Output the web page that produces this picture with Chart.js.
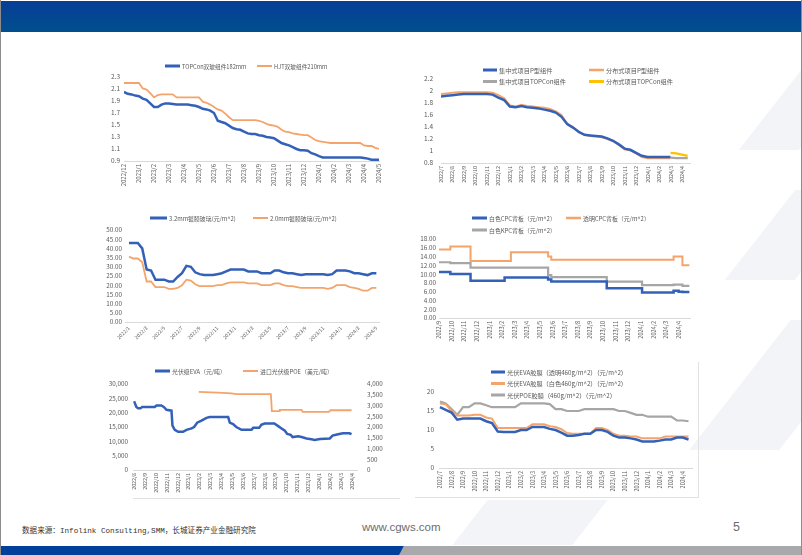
<!DOCTYPE html>
<html lang="zh-CN">
<head>
<meta charset="utf-8">
<title>光伏组件及辅材价格走势</title>
<script src="https://cdn.jsdelivr.net/npm/chart.js@4.4.1/dist/chart.umd.min.js"></script>
<style>
html,body{margin:0;padding:0;}
body{width:802px;height:555px;position:relative;overflow:hidden;background:#fff;font-family:"Noto Sans CJK SC","Noto Sans",sans-serif;}
#topbar{position:absolute;left:0;top:1px;width:802px;height:31px;background:linear-gradient(to bottom,#073d97,#004f8e);}
canvas{position:absolute;}
.wm{position:absolute;background:#f2f4f8;transform:skewX(-38deg);}
.fr{position:absolute;background:#e2e2e2;}
#src{position:absolute;left:22px;top:524px;font-family:"Liberation Mono","Noto Sans CJK SC",monospace;font-size:7.6px;color:#333;white-space:nowrap;}
#url{position:absolute;left:362px;top:521px;font-family:"Liberation Sans",sans-serif;font-size:11.5px;color:#6d6d6d;}
#pg{position:absolute;left:733px;top:520px;font-family:"Liberation Sans",sans-serif;font-size:12.5px;color:#6d6d6d;}
#barBlue{position:absolute;left:0;top:546px;width:404px;height:9px;background:#00409a;clip-path:polygon(0 0,100% 0,calc(100% - 4px) 100%,0 100%);}
#barGray{position:absolute;left:399px;top:546px;width:403px;height:9px;background:#a9a9ab;clip-path:polygon(5px 0,100% 0,100% 100%,0 100%);}
#edgeL{position:absolute;left:0;top:0;width:1px;height:555px;background:#8c8c8c;}
#edgeR{position:absolute;right:0;top:0;width:1px;height:555px;background:#8c8c8c;}
</style>
</head>
<body>
<div class="wm" style="left:770px;top:70px;width:60px;height:80px;"></div>
<div class="wm" style="left:760px;top:190px;width:70px;height:90px;"></div>
<div class="wm" style="left:740px;top:320px;width:90px;height:130px;"></div>
<div class="wm" style="left:470px;top:500px;width:120px;height:45px;"></div>
<div id="topbar"></div>
<div class="fr" style="left:133px;top:498px;width:267px;height:1px;"></div>
<div class="fr" style="left:415px;top:497px;width:284px;height:1px;"></div>
<div class="fr" style="left:698px;top:362px;width:1px;height:136px;"></div>
<div id="src">数据来源：Infolink Consulting,SMM，长城证券产业金融研究院</div>
<div id="url">www.cgws.com</div>
<div id="pg">5</div>
<div id="barBlue"></div>
<div id="barGray"></div>
<div id="edgeL"></div>
<div id="edgeR"></div>
<script>
// ---------------- DATA ----------------
// Panel 1: module prices (weekly, 4 samples per month from 2022/12)
const p1Labels = ['2022/12','2023/1','2023/2','2023/3','2023/4','2023/5','2023/6','2023/7','2023/8','2023/9','2023/10','2023/11','2023/12','2024/1','2024/2','2024/3','2024/4','2024/5'];
const p1PerMonth = 4;
const p1Topcon = [2.05,2.02,2.01,1.99,1.98,1.94,1.92,1.86,1.80,1.80,1.84,1.86,1.86,1.85,1.84,1.84,1.84,1.84,1.83,1.82,
  1.80,1.77,1.76,1.74,1.70,1.57,1.55,1.53,1.49,1.45,1.43,1.42,1.39,1.36,1.35,1.35,1.33,1.32,1.30,1.29,
  1.28,1.24,1.20,1.18,1.16,1.13,1.10,1.08,1.08,1.07,1.03,1.01,0.98,0.96,0.96,0.96,0.96,0.96,0.96,0.96,
  0.96,0.96,0.96,0.96,0.95,0.94,0.92,0.92,0.92];
const p1Hjt = [2.20,2.20,2.20,2.20,2.20,2.11,2.09,2.03,1.96,2.00,2.01,2.01,2.01,2.01,1.96,1.96,1.96,1.96,1.96,1.96,
  1.96,1.89,1.87,1.84,1.80,1.76,1.74,1.69,1.63,1.58,1.58,1.58,1.58,1.58,1.58,1.58,1.57,1.55,1.52,1.50,
  1.49,1.47,1.42,1.39,1.38,1.36,1.35,1.34,1.33,1.33,1.29,1.25,1.23,1.22,1.21,1.20,1.20,1.20,1.20,1.20,
  1.20,1.20,1.20,1.20,1.16,1.15,1.15,1.12,1.10];

// Panel 2: bid prices (2 samples per month from 2022/7)
const p2Labels = ['2022/7','2022/8','2022/9','2022/10','2022/11','2022/12','2023/1','2023/2','2023/3','2023/4','2023/5','2023/6','2023/7','2023/8','2023/9','2023/10','2023/11','2023/12','2024/1','2024/2','2024/3','2024/4'];
const p2PerMonth = 2;
const p2CentralP = [1.91,1.92,1.93,1.94,1.95,1.95,1.95,1.95,1.95,1.94,1.89,1.85,1.74,1.73,1.75,1.73,1.72,1.71,1.69,1.67,1.64,1.57,1.45,1.39,1.32,1.27,1.26,1.25,1.24,1.21,1.17,1.11,1.04,1.02,0.97,0.92,0.90,0.90,0.90,0.90,0.90,null,null,null];
const p2DistP = [1.95,1.96,1.97,1.98,1.98,1.98,1.98,1.98,1.98,1.97,1.93,1.88,1.76,1.74,1.77,1.75,1.74,1.73,1.72,1.70,1.66,1.60,1.45,1.40,1.31,1.27,1.25,1.24,1.23,1.20,1.16,1.10,1.03,1.01,0.96,0.90,0.88,0.88,0.88,0.88,0.88,null,null,null];
const p2CentralTopcon = [null,null,null,null,null,null,null,null,null,null,null,null,null,null,null,null,null,null,null,null,null,null,null,null,null,null,null,null,null,null,null,null,null,null,null,null,null,null,null,null,0.89,0.88,0.88,0.88];
const p2DistTopcon = [null,null,null,null,null,null,null,null,null,null,null,null,null,null,null,null,null,null,null,null,null,null,null,null,null,null,null,null,null,null,null,null,null,null,null,null,null,null,null,null,0.97,0.96,0.94,0.92];

// Panel 3: PV glass (2 samples per month from 2022/1)
const p3Labels = ['2022/1','2022/3','2022/5','2022/7','2022/9','2022/11','2023/1','2023/3','2023/5','2023/7','2023/9','2023/11','2024/1','2024/3','2024/5'];
const p3PerMonth = 2;
const p3Glass32 = [43,43,43,40,28.5,28,23,23,23,22,22,24.5,26.5,30.5,30,27,26,25.5,25.5,25.5,26,26.5,27.5,28.5,28.5,28.5,28.5,27.5,27.5,27.5,26.5,26.5,26.5,28,28,27,26.5,26.5,26,25.5,26,26,26,26,26,25.5,26,28,28,28,27.5,26.5,26.5,26,25.5,26.5,26.5];
const p3Glass20 = [35.5,34.5,34.5,32.5,22,22,19,19,19,18,18,18.5,20,23,22.5,20.5,19.5,19.5,19.5,19.5,20,20,21,21.5,21.5,21.5,21.5,21,21,21,20,20,20,21,21,20,19.5,19.5,19,18.5,18.5,18.5,18.5,18.5,18.5,18,18.5,20,20,20,19,18.5,18,17,17,18.5,18.5];

// Panel 4: backsheets (step changes, months from 2022/9)
const p4Labels = ['2022/9','2022/10','2022/11','2022/12','2023/1','2023/2','2023/3','2023/4','2023/5','2023/6','2023/7','2023/8','2023/9','2023/10','2023/11','2023/12','2024/1','2024/2','2024/3','2024/4'];
const p4Months = [0,0.9,2.5,5.2,5.7,8.65,8.9,13.3,16.1,18.6,19.0,19.3,19.85];
const p4WhiteCPC = [10.5,10.0,8.5,9.2,9.2,8.8,8.3,6.8,5.8,6.2,6.0,5.9,5.9];
const p4ClearCPC = [15.6,16.3,13.0,13.0,15.0,14.0,13.3,13.3,13.3,14.0,14.0,12.0,12.0];
const p4WhiteKPC = [12.7,12.5,11.5,11.5,11.5,9.8,9.3,8.3,7.5,7.6,7.6,7.3,7.3];

// Panel 5: EVA / POE resin (months from 2022/8)
const p5Labels = ['2022/8','2022/9','2022/10','2022/11','2022/12','2023/1','2023/2','2023/3','2023/4','2023/5','2023/6','2023/7','2023/8','2023/9','2023/10','2023/11','2023/12','2024/1','2024/2','2024/3','2024/4'];
const p5EvaMonths = [0,0.21,0.37,0.58,0.74,1.9,2.06,2.5,2.73,2.98,3.44,3.53,3.74,4.05,4.5,4.82,5.28,5.52,5.8,6.2,6.66,6.96,8.65,8.8,9.1,9.4,9.88,10.8,10.95,11.5,11.7,12.0,12.9,13.25,13.56,13.87,14.08,14.4,14.57,15.1,15.4,15.86,16.3,16.6,17.1,18.0,18.25,18.77,19.2,19.8,20.0];
const p5EvaValues = [24000,22000,21500,21500,22000,22000,22500,22500,22000,21000,20700,15500,14000,13300,13300,14000,14500,15000,16500,17200,18200,18500,18500,16500,16000,15000,14000,14000,14700,14700,15800,16200,16200,15300,14500,13700,12600,12300,11500,11800,11500,11000,10700,10500,10800,11000,12000,12500,12800,12800,12500];
const p5PoeMonths = [5.95,7.7,8.96,9.4,12.58,12.67,13.34,13.4,15.4,15.5,17.9,18.07,20.0];
const p5PoeValues = [3630,3600,3560,3530,3530,2740,2740,2800,2800,2700,2700,2780,2780];

// Panel 6: encapsulant films (2 samples per month from 2022/7)
const p6Labels = ['2022/7','2022/8','2022/9','2022/10','2022/11','2022/12','2023/1','2023/2','2023/3','2023/4','2023/5','2023/6','2023/7','2023/8','2023/9','2023/10','2023/11','2023/12','2024/1','2024/2','2024/3','2024/4'];
const p6PerMonth = 2;
const p6EvaClear = [16.0,15.3,14.6,12.7,13.0,13.0,13.0,13.0,12.3,11.8,9.6,9.5,9.5,9.5,10.0,10.0,10.8,10.8,10.8,10.3,10.0,9.3,8.5,8.5,8.7,9.0,9.0,10.0,10.0,9.5,8.5,8.0,8.0,7.8,7.5,7.0,7.0,7.0,7.2,7.5,7.5,8.0,8.0,7.5];
const p6EvaWhite = [17.0,16.8,15.0,13.8,13.8,13.8,14.0,14.0,13.3,13.0,10.5,10.5,10.5,10.5,10.5,10.5,11.5,11.5,11.5,11.0,10.8,10.2,9.2,9.0,9.0,9.0,9.0,10.5,10.5,10.0,9.0,8.5,8.5,8.3,8.3,7.8,7.8,7.8,7.8,8.3,8.3,8.3,8.3,8.3];
const p6Poe = [17.5,17.0,15.5,14.0,16.0,16.0,17.0,17.0,16.5,16.0,16.0,16.0,16.0,16.0,17.0,17.0,17.0,17.0,17.0,16.8,15.5,15.5,15.0,15.0,15.0,15.5,15.5,15.5,15.5,15.5,15.5,15.0,15.0,14.5,14.0,14.0,13.5,13.5,13.5,13.5,13.5,12.5,12.5,12.3];

// ---------------- RENDERING ----------------
const FONT = '"Noto Sans CJK SC","Noto Sans",sans-serif';
const C_BLUE = '#3461b8', C_ORANGE = '#f4a46a', C_GRAY = '#a6a6a6', C_YELLOW = '#ffc000';
const TXT = '#595959';
Chart.defaults.font.family = FONT;
Chart.defaults.color = TXT;
Chart.defaults.animation = false;
Chart.defaults.plugins.tooltip.enabled = false;
Chart.defaults.elements.point.radius = 0;
Chart.defaults.elements.line.tension = 0;

const grid = (vals, per) => vals.map((v, i) => ({x: i / per, y: v}));
const pairs = (xs, ys) => xs.map((x, i) => ({x, y: ys[i]}));
const trimNum = v => String(+v.toFixed(2));

function legendPlugin(items, origin, size) {
  return {
    id: 'lineLegend',
    afterDraw(chart) {
      const ctx = chart.ctx;
      ctx.save();
      ctx.font = size + 'px ' + FONT;
      ctx.textBaseline = 'middle';
      ctx.textAlign = 'left';
      items.forEach(it => {
        const ds = chart.data.datasets[it.ds];
        const x = it.x - origin[0], y = it.y - origin[1];
        ctx.fillStyle = ds.borderColor;
        ctx.fillRect(x, y - it.h / 2, it.w, it.h);
        ctx.fillStyle = TXT;
        ctx.fillText(ds.label, x + it.w + 2, y + 0.5);
      });
      ctx.restore();
    }
  };
}

function buildChart(cfg) {
  const [L, T, W, H] = cfg.rect;
  const [pl, pt, pr, pb] = cfg.plot;
  const cv = document.createElement('canvas');
  cv.width = W; cv.height = H;
  cv.style.left = L + 'px'; cv.style.top = T + 'px';
  cv.style.width = W + 'px'; cv.style.height = H + 'px';
  document.body.appendChild(cv);
  const y1w = cfg.y1 ? cfg.y1w : 0;
  const scales = {
    x: {
      type: 'linear', min: cfg.xmin, max: cfg.xmax,
      grid: {display: false, drawTicks: false},
      border: {display: true, color: '#d9d9d9', width: 1},
      ticks: {
        stepSize: cfg.xstep, autoSkip: false, includeBounds: false,
        minRotation: cfg.rot, maxRotation: cfg.rot, padding: 3,
        font: {size: cfg.xfont},
        callback: v => {
          const i = Math.round(v / cfg.xstep);
          return (Math.abs(v - i * cfg.xstep) < 1e-6 && cfg.xlabels[i]) ? cfg.xlabels[i] : '';
        }
      },
      afterFit: s => { s.height = cfg.xh; }
    },
    y: {
      position: 'left', min: cfg.ymin, max: cfg.ymax,
      grid: {display: false, drawTicks: false}, border: {display: false},
      ticks: {stepSize: cfg.ystep, autoSkip: false, padding: cfg.ypad, font: {size: cfg.yfont}, callback: cfg.yfmt},
      afterFit: s => { s.width = cfg.yw; }
    }
  };
  if (cfg.y1) {
    scales.y1 = {
      position: 'right', min: cfg.y1.min, max: cfg.y1.max,
      grid: {display: false, drawTicks: false}, border: {display: false},
      ticks: {stepSize: cfg.y1.step, autoSkip: false, padding: cfg.y1.pad, font: {size: cfg.yfont}, callback: cfg.y1.fmt},
      afterFit: s => { s.width = cfg.y1w; }
    };
  }
  return new Chart(cv, {
    type: 'line',
    data: {datasets: cfg.datasets},
    options: {
      responsive: false,
      layout: {padding: {left: pl - L - cfg.yw, top: pt - T, right: L + W - pr - y1w, bottom: T + H - pb - cfg.xh}},
      scales,
      plugins: {legend: {display: false}}
    },
    plugins: [legendPlugin(cfg.legend, [L, T], cfg.lfont)]
  });
}

// Panel 1
buildChart({
  rect: [100, 56, 292, 152], plot: [124, 77, 379, 161],
  xmin: 0, xmax: 17, xstep: 1, xlabels: p1Labels, rot: 90, xfont: 6, xh: 40,
  ymin: 0.9, ymax: 2.3, ystep: 0.2, yw: 16, ypad: 4, yfont: 6.5, yfmt: trimNum,
  lfont: 5.7,
  legend: [{ds: 0, x: 165, y: 66, w: 15, h: 3}, {ds: 1, x: 257, y: 66, w: 15, h: 2}],
  datasets: [
    {label: 'TOPCon双玻组件182mm', data: grid(p1Topcon, p1PerMonth), borderColor: C_BLUE, borderWidth: 2.5},
    {label: 'HJT双玻组件210mm', data: grid(p1Hjt, p1PerMonth), borderColor: C_ORANGE, borderWidth: 1.8}
  ]
});

// Panel 2
buildChart({
  rect: [415, 56, 285, 150], plot: [441, 79, 690, 163],
  xmin: 0, xmax: 21.7, xstep: 1, xlabels: p2Labels, rot: 90, xfont: 5.3, xh: 36,
  ymin: 0.8, ymax: 2.2, ystep: 0.2, yw: 20, ypad: 8, yfont: 6.5, yfmt: trimNum,
  lfont: 6.2,
  legend: [{ds: 0, x: 483, y: 70, w: 14, h: 3}, {ds: 1, x: 589, y: 70, w: 15, h: 2.5},
           {ds: 2, x: 483, y: 81.5, w: 14, h: 3}, {ds: 3, x: 589, y: 81.5, w: 15, h: 3}],
  datasets: [
    {label: '集中式项目P型组件', data: grid(p2CentralP, p2PerMonth), borderColor: C_BLUE, borderWidth: 2.5},
    {label: '分布式项目P型组件', data: grid(p2DistP, p2PerMonth), borderColor: C_ORANGE, borderWidth: 2},
    {label: '集中式项目TOPCon组件', data: grid(p2CentralTopcon, p2PerMonth), borderColor: C_GRAY, borderWidth: 2.2},
    {label: '分布式项目TOPCon组件', data: grid(p2DistTopcon, p2PerMonth), borderColor: C_YELLOW, borderWidth: 2.2}
  ]
});

// Panel 3
buildChart({
  rect: [95, 208, 295, 145], plot: [125, 230, 379, 322],
  xmin: -0.45, xmax: 28.3, xstep: 2, xlabels: p3Labels, rot: 45, xfont: 5, xh: 24,
  ymin: 0, ymax: 50, ystep: 5, yw: 25, ypad: 3, yfont: 6.3, yfmt: v => v.toFixed(2),
  lfont: 5.9,
  legend: [{ds: 0, x: 150, y: 218, w: 17, h: 3}, {ds: 1, x: 253, y: 218, w: 15, h: 2}],
  datasets: [
    {label: '3.2mm镀膜玻璃(元/m^2)', data: grid(p3Glass32, p3PerMonth), borderColor: C_BLUE, borderWidth: 2.5},
    {label: '2.0mm镀膜玻璃(元/m^2)', data: grid(p3Glass20, p3PerMonth), borderColor: C_ORANGE, borderWidth: 1.8}
  ]
});

// Panel 4
buildChart({
  rect: [410, 208, 290, 150], plot: [439, 239, 690, 318],
  xmin: 0, xmax: 19.9, xstep: 1, xlabels: p4Labels, rot: 90, xfont: 5.6, xh: 32,
  ymin: 0, ymax: 18, ystep: 2, yw: 22, ypad: 3, yfont: 6.3, yfmt: v => v.toFixed(2),
  lfont: 5.9,
  legend: [{ds: 0, x: 472, y: 218, w: 15, h: 3}, {ds: 1, x: 566, y: 218, w: 15, h: 2.5},
           {ds: 2, x: 472, y: 230, w: 15, h: 3}],
  datasets: [
    {label: '白色CPC背板（元/m^2）', data: pairs(p4Months, p4WhiteCPC), borderColor: C_BLUE, borderWidth: 2.5, stepped: true},
    {label: '透明CPC背板（元/m^2）', data: pairs(p4Months, p4ClearCPC), borderColor: C_ORANGE, borderWidth: 2, stepped: true},
    {label: '白色KPC背板（元/m^2）', data: pairs(p4Months, p4WhiteKPC), borderColor: C_GRAY, borderWidth: 2.2, stepped: true}
  ]
});

// Panel 5
buildChart({
  rect: [95, 362, 300, 140], plot: [133, 384, 357, 470],
  xmin: -0.1, xmax: 20.5, xstep: 1, xlabels: p5Labels, rot: 90, xfont: 5.3, xh: 28,
  ymin: 0, ymax: 30000, ystep: 5000, yw: 30, ypad: 5, yfont: 6.3, yfmt: v => v.toLocaleString('en-US'),
  y1: {min: 0, max: 4000, step: 500, pad: 10, fmt: v => v.toLocaleString('en-US')}, y1w: 30,
  lfont: 5.9,
  legend: [{ds: 0, x: 155, y: 371, w: 15, h: 3}, {ds: 1, x: 243, y: 371, w: 15, h: 2}],
  datasets: [
    {label: '光伏级EVA（元/吨）', data: pairs(p5EvaMonths, p5EvaValues), borderColor: C_BLUE, borderWidth: 2.5, yAxisID: 'y'},
    {label: '进口光伏级POE（美元/吨）', data: pairs(p5PoeMonths, p5PoeValues), borderColor: C_ORANGE, borderWidth: 1.8, yAxisID: 'y1'}
  ]
});

// Panel 6
buildChart({
  rect: [410, 362, 288, 140], plot: [439, 392, 692, 468],
  xmin: -0.08, xmax: 21.8, xstep: 1, xlabels: p6Labels, rot: 90, xfont: 5.5, xh: 28,
  ymin: 0, ymax: 20, ystep: 5, yw: 20, ypad: 5, yfont: 6.5, yfmt: trimNum,
  lfont: 6.2,
  legend: [{ds: 0, x: 491, y: 372, w: 14, h: 3}, {ds: 1, x: 491, y: 383.5, w: 14, h: 3}, {ds: 2, x: 491, y: 395, w: 14, h: 3}],
  datasets: [
    {label: '光伏EVA胶膜（透明460g/m^2）（元/m^2）', data: grid(p6EvaClear, p6PerMonth), borderColor: C_BLUE, borderWidth: 2.5},
    {label: '光伏EVA胶膜（白色460g/m^2）（元/m^2）', data: grid(p6EvaWhite, p6PerMonth), borderColor: C_ORANGE, borderWidth: 2},
    {label: '光伏POE胶膜（460g/m^2）（元/m^2）', data: grid(p6Poe, p6PerMonth), borderColor: C_GRAY, borderWidth: 2.2}
  ]
});
</script>
</body>
</html>
